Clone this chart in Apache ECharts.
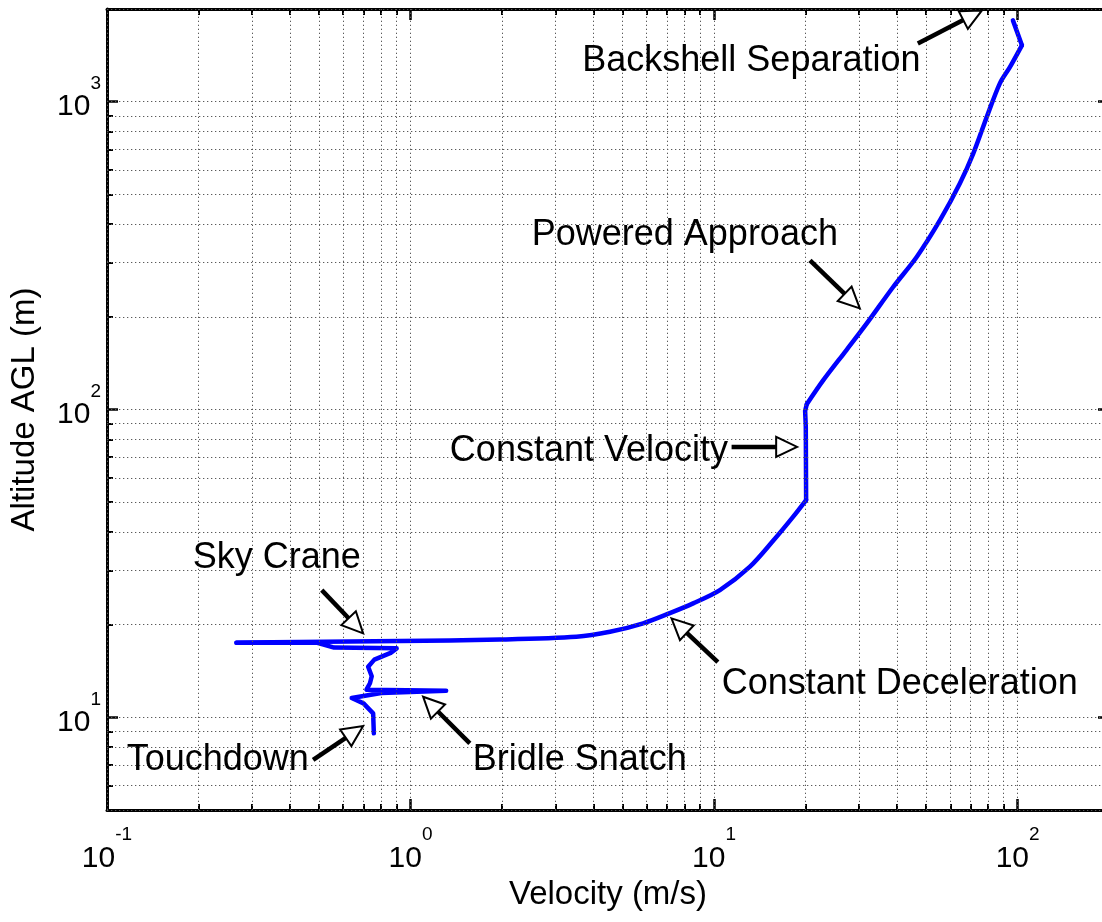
<!DOCTYPE html>
<html>
<head>
<meta charset="utf-8">
<script src="https://cdn.jsdelivr.net/npm/echarts@6/dist/echarts.min.js"></script>
<style>
html,body{margin:0;padding:0;background:#fff;}
#chart{width:1102px;height:922px;}
</style>
</head>
<body>
<div id="chart"></div>
<script>
// ---- data ----
const velocity = [96.5, 103.3, 94.3, 87.4, 79.1, 71.4, 64.5, 55.5, 46.5, 38.9, 31.8, 27.3, 22.9,
  20.2, 19.95, 20.05, 20.1, 18.2, 15.7, 13.1, 10.45, 8.53, 7.15, 5.84, 4.54, 3.52, 1.97,
  0.92, 0.43, 0.267, 0.49, 0.56, 0.90, 0.86, 0.76, 0.725, 0.745, 0.735, 0.716, 1.31, 0.80,
  0.64, 0.70, 0.753, 0.757];
const altitude = [1837, 1524, 1295, 1147, 891, 678, 542, 412, 313, 250, 190, 156, 124.5,
  104, 99, 88, 50.8, 44.8, 37.6, 30.8, 25.9, 23.45, 21.8, 20.2, 18.96, 18.27, 17.89,
  17.69, 17.56, 17.47, 17.5, 16.85, 16.75, 16.2, 15.4, 14.6, 13.6, 12.9, 12.3, 12.2, 12.0,
  11.55, 11.1, 10.3, 8.87];
// index ranges of the trajectory: [start, end, smoothed?]
const trajectorySegments = [[0, 1, false], [1, 13, true], [13, 16, false], [16, 29, true], [29, 44, false]];

const xMajorTicks = [0.1, 1, 10, 100];
const xMinorTicks = [0.2, 0.3, 0.4, 0.5, 0.6, 0.7, 0.8, 0.9, 2, 3, 4, 5, 6, 7, 8, 9,
  20, 30, 40, 50, 60, 70, 80, 90, 200];
const yMajorTicks = [10, 100, 1000];
const yMinorTicks = [5, 6, 7, 8, 9, 20, 30, 40, 50, 60, 70, 80, 90,
  200, 300, 400, 500, 600, 700, 800, 900, 2000];

const annotationLabels = ['Backshell Separation', 'Powered Approach', 'Constant Velocity',
  'Sky Crane', 'Constant Deceleration', 'Touchdown', 'Bridle Snatch'];
const annotationTextAt = [[13.27, 1356], [8.01, 369], [3.87, 73.5], [0.3626, 32.8],
  [40.9, 12.78], [0.2318, 7.29], [3.61, 7.29]];
const annotationArrowFrom = [[46.9, 1546], [20.7, 305], [11.42, 75.6], [0.51, 25.9],
  [10.29, 15.12], [0.4776, 7.27], [1.568, 8.23]];
const annotationArrowTo = [[76.3, 1979], [30.2, 213], [18.78, 75.6], [0.698, 18.74],
  [7.24, 20.96], [0.698, 9.37], [1.10, 11.67]];

// ---- chart ----
const FONT = '"Liberation Sans", Arial, Helvetica, sans-serif';
const chart = echarts.init(document.getElementById('chart'), null, {renderer: 'canvas'});

function powLabel(v) {
  const e = Math.round(Math.log10(v));
  return '{b|10}{e|' + e + '}';
}
const xRich = {
  b: {fontSize: 30, fontFamily: FONT, color: '#000', padding: [24, 0, 0, 0]},
  e: {fontSize: 19, fontFamily: FONT, color: '#000', padding: [0, 0, 24, 0]}
};
const yRich = {
  b: {fontSize: 30, fontFamily: FONT, color: '#000', padding: [10, 0, 0, 0]},
  e: {fontSize: 19, fontFamily: FONT, color: '#000', padding: [0, 0, 36, 0]}
};

function logAxis(extra) {
  return Object.assign({
    type: 'log', logBase: 10,
    axisLine: {show: false, onZero: false},
    axisTick: {show: false},
    axisLabel: {show: false},
    splitLine: {show: false},
    minorTick: {show: false},
    minorSplitLine: {show: false}
  }, extra);
}
const X_RANGE = {min: 0.1, max: 200};
const Y_RANGE = {min: 5, max: 2000};
const majorTick = (vals) => ({show: true, inside: true, length: 11, customValues: vals,
  lineStyle: {color: '#000', width: 2.5}});
const minorTick = (vals) => ({show: true, inside: true, length: 6, customValues: vals,
  lineStyle: {color: '#000', width: 2}});
const axisLineStyle = {show: true, onZero: false, lineStyle: {color: '#000', width: 3}};

const gridLines = xMajorTicks.concat(xMinorTicks).map(v => ({xAxis: v}))
  .concat(yMajorTicks.concat(yMinorTicks).map(v => ({yAxis: v})));

const trajectorySeries = trajectorySegments.map(([a, b, sm]) => ({
  name: 'trajectory', type: 'line', xAxisIndex: 0, yAxisIndex: 0,
  data: velocity.slice(a, b + 1).map((v, i) => [v, altitude[a + i]]),
  showSymbol: false, symbol: 'none', smooth: sm ? 0.3 : false, clip: true,
  lineStyle: {color: '#0000ff', width: 4.5, join: 'round', cap: 'round'}
}));

chart.setOption({
  animation: false,
  backgroundColor: '#fff',
  grid: {left: 107, width: 1002, top: 9, bottom: 112, containLabel: false, outerBoundsMode: 'none'},
  xAxis: [
    logAxis(Object.assign({position: 'bottom', axisLine: axisLineStyle,
      axisTick: majorTick(xMajorTicks),
      axisLabel: {show: true, customValues: xMajorTicks, formatter: powLabel, rich: xRich, margin: 10},
      name: 'Velocity (m/s)', nameLocation: 'middle', nameGap: 64,
      nameTextStyle: {fontSize: 33, fontFamily: FONT, color: '#000'}}, X_RANGE)),
    logAxis(Object.assign({position: 'top', axisLine: axisLineStyle,
      axisTick: majorTick(xMajorTicks)}, X_RANGE)),
    logAxis(Object.assign({position: 'bottom', axisTick: minorTick(xMinorTicks)}, X_RANGE)),
    logAxis(Object.assign({position: 'top', axisTick: minorTick(xMinorTicks)}, X_RANGE))
  ],
  yAxis: [
    logAxis(Object.assign({position: 'left', axisLine: axisLineStyle,
      axisTick: majorTick(yMajorTicks),
      axisLabel: {show: true, customValues: yMajorTicks, formatter: powLabel, rich: yRich, margin: 6},
      name: 'Altitude AGL (m)', nameLocation: 'middle', nameGap: 66,
      nameTextStyle: {fontSize: 33, fontFamily: FONT, color: '#000'}}, Y_RANGE)),
    logAxis(Object.assign({position: 'right', axisLine: axisLineStyle,
      axisTick: majorTick(yMajorTicks)}, Y_RANGE)),
    logAxis(Object.assign({position: 'left', axisTick: minorTick(yMinorTicks)}, Y_RANGE)),
    logAxis(Object.assign({position: 'right', axisTick: minorTick(yMinorTicks)}, Y_RANGE))
  ],
  series: [
    {
      name: 'grid', type: 'line', xAxisIndex: 0, yAxisIndex: 0,
      data: [[1, 10]], showSymbol: false, silent: true,
      lineStyle: {opacity: 0},
      markLine: {
        silent: true, animation: false, symbol: ['none', 'none'],
        label: {show: false},
        lineStyle: {color: '#5a5a5a', width: 1, type: [1.3, 2.7], opacity: 1},
        emphasis: {disabled: true},
        data: gridLines
      }
    }
  ].concat(trajectorySeries)
});

// ---- annotations, anchored in data coordinates ----
function px(p) { return chart.convertToPixel({xAxisIndex: 0, yAxisIndex: 0}, p); }
const graphics = [];
annotationLabels.forEach((label, i) => {
  const t = px(annotationTextAt[i]);
  const s = px(annotationArrowFrom[i]);
  const e = px(annotationArrowTo[i]);
  const dx = e[0] - s[0], dy = e[1] - s[1];
  const len = Math.sqrt(dx * dx + dy * dy);
  const ux = dx / len, uy = dy / len;
  const L = 21, W = 10;
  const bx = e[0] - ux * L, by = e[1] - uy * L;
  const nx = -uy, ny = ux;
  graphics.push({
    type: 'text', z: 100, x: t[0], y: t[1], silent: true,
    style: {text: label, fontSize: 36, fontFamily: FONT, fill: '#000',
      align: 'center', verticalAlign: 'middle', textAlign: 'center', textVerticalAlign: 'middle'}
  });
  graphics.push({
    type: 'line', z: 100, silent: true,
    shape: {x1: s[0], y1: s[1], x2: bx, y2: by},
    style: {stroke: '#000', lineWidth: 4.5}
  });
  graphics.push({
    type: 'polygon', z: 101, silent: true,
    shape: {points: [[e[0], e[1]], [bx + nx * W, by + ny * W], [bx - nx * W, by - ny * W]]},
    style: {fill: '#fff', stroke: '#000', lineWidth: 2}
  });
});
chart.setOption({graphic: graphics});
</script>
</body>
</html>
